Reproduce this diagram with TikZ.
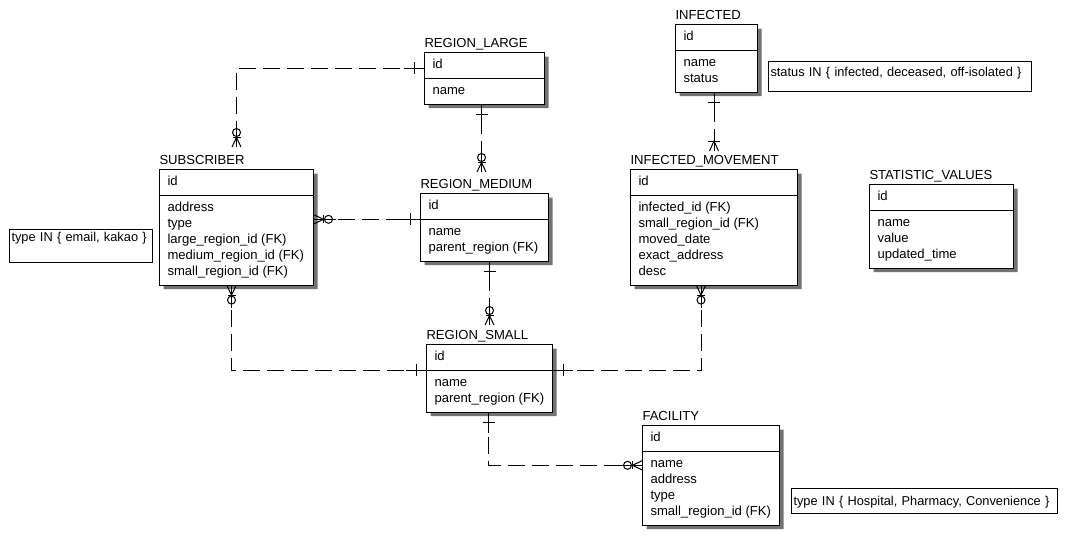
\documentclass[tikz,border=0pt]{standalone}
\usepackage{fontspec}
\setmainfont{Liberation Sans}
\usetikzlibrary{calc,shapes.multipart,shadows}

% end marks of a relationship: (end point)(direction away from the box)
\def\onemark(#1)(#2){\begin{scope}[shift={(#1)},rotate=#2]
  \draw (0,0) -- (20,0);
  \draw (10,-6) -- (10,6);
\end{scope}}
\def\zmanymark(#1)(#2){\begin{scope}[shift={(#1)},rotate=#2]
  \draw (0,0) -- (22,0);
  \draw (0,-4.5) -- (9.5,0) -- (0,4.5);
  \draw (9.5,-4) -- (9.5,4);
  \draw (14.5,0) circle (3pt);
\end{scope}}
\def\onemanymark(#1)(#2){\begin{scope}[shift={(#1)},rotate=#2]
  \draw (0,0) -- (20,0);
  \draw (0,-4.5) -- (10,0) -- (0,4.5);
  \draw (10,-6) -- (10,6);
\end{scope}}

\tikzset{
  entity/.style={rectangle split, rectangle split parts=2,
    rectangle split part align=left, align=left, draw, fill=white,
    minimum width=#1*0.75pt, inner xsep=6pt, inner ysep=3.3pt,
    anchor=north west, font=\fontsize{9.8pt}{12pt}\selectfont,
    drop shadow={shadow xshift=3pt,shadow yshift=-3pt,fill=black!55,opacity=1}},
  etitle/.style={anchor=base west, inner sep=0pt, font=\fontsize{9.8pt}{12pt}\selectfont},
  note/.style={draw, anchor=north west, inner xsep=1.5pt, inner ysep=0pt,
    align=left, font=\fontsize{9.6pt}{12pt}\selectfont},
  reldash/.style={dash pattern=on 12.75pt off 5.25pt},
  relshort/.style={dash pattern=on 22pt off 5pt}
}

\begin{document}
\begin{tikzpicture}[x=0.75pt,y=0.75pt,line width=0.75pt]
  \useasboundingbox (0,0) rectangle (1074,-543);

  %%%%% tables %%%%%
  \node[entity=120] (rl) at (424,-52) {\strut id\nodepart{two}\strut name};
  \node[etitle] (rlT) at ($(rl.north west)+(0,5)$) {REGION\_LARGE};

  \node[entity=82] (inf) at (675,-24) {\strut id\nodepart{two}\strut name\\status\strut};
  \node[etitle] (infT) at ($(inf.north west)+(0,5)$) {INFECTED};

  \node[entity=154] (sub) at (159,-169) {\strut id\nodepart{two}\strut address\\type\\
    large\_region\_id (FK)\\medium\_region\_id (FK)\\small\_region\_id (FK)\strut};
  \node[etitle] (subT) at ($(sub.north west)+(0,5)$) {SUBSCRIBER};

  \node[entity=128] (rm) at (420,-193) {\strut id\nodepart{two}\strut name\\parent\_region (FK)\strut};
  \node[etitle] (rmT) at ($(rm.north west)+(0,5)$) {REGION\_MEDIUM};

  \node[entity=167] (im) at (630,-169) {\strut id\nodepart{two}\strut infected\_id (FK)\\
    small\_region\_id (FK)\\moved\_date\\exact\_address\\desc\strut};
  \node[etitle] (imT) at ($(im.north west)+(0,5)$) {INFECTED\_MOVEMENT};

  \node[entity=144] (sv) at (869,-184) {\strut id\nodepart{two}\strut name\\value\\updated\_time\strut};
  \node[etitle] (svT) at ($(sv.north west)+(0,5)$) {STATISTIC\_VALUES};

  \node[entity=126] (rs) at (426,-344) {\strut id\nodepart{two}\strut name\\parent\_region (FK)\strut};
  \node[etitle] (rsT) at ($(rs.north west)+(0,5)$) {REGION\_SMALL};

  \node[entity=137] (fac) at (642,-425) {\strut id\nodepart{two}\strut name\\address\\type\\
    small\_region\_id (FK)\strut};
  \node[etitle] (facT) at ($(fac.north west)+(0,5)$) {FACILITY};

  %%%%% notes %%%%%
  \node[note, text width=104.25pt, text height=9pt, text depth=15.75pt] (subN) at (9,-229)
    {\mbox{type IN \{ email, kakao \}}};
  \node[note, text width=194.25pt, text height=10.9pt, text depth=11.6pt] (infN) at (768,-61)
    {\mbox{status IN \{ infected, deceased, off-isolated \}}};
  \node[note, text width=196.5pt, text height=12.75pt, text depth=6pt] (facN) at (791,-488)
    {\mbox{type IN \{ Hospital, Pharmacy, Convenience \}}};

  %%%%% relationships %%%%%
  \coordinate (rlL) at ($(rl.north west)+(0,-16)$);
  \coordinate (subTop) at ($(sub.north)+(0,22)$);
  \draw[reldash] (rlL) -| (subTop);
  \onemark(rlL)(180)
  \zmanymark(subTop)(90)

  \coordinate (rlB) at ($(rl.south)+(-3,0)$);
  \coordinate (rmTop) at ($(rm.north)+(-3,21)$);
  \draw[relshort] (rlB) -- (rmTop);
  \onemark(rlB)(-90)
  \zmanymark(rmTop)(90)

  \coordinate (subR) at (rm.text split west -| sub.east);
  \draw[reldash] (subR) -- (rm.text split west);
  \zmanymark(subR)(0)
  \onemark(rm.text split west)(180)

  \coordinate (rmB) at (rm.south -| rs.north);
  \coordinate (rsTop) at ($(rs.north)+(0,19)$);
  \draw[relshort] (rmB) -- (rsTop);
  \onemark(rmB)(-90)
  \zmanymark(rsTop)(90)

  \coordinate (subB) at ($(sub.south)+(-5,0)$);
  \draw[reldash] (subB) |- (rs.text split west);
  \zmanymark(subB)(-90)
  \onemark(rs.text split west)(180)

  \coordinate (imB) at ($(im.south)+(-13,0)$);
  \draw[reldash] (imB) |- (rs.text split east);
  \zmanymark(imB)(-90)
  \onemark(rs.text split east)(0)

  \coordinate (infB) at (inf.south -| im.north);
  \coordinate (imTop) at ($(im.north)+(0,18)$);
  \draw[relshort] (infB) -- (imTop);
  \onemark(infB)(-90)
  \onemanymark(imTop)(90)

  \coordinate (rsB) at ($(rs.south)+(-1,0)$);
  \coordinate (facL) at ($(fac.text split west)+(0,-14)$);
  \draw[reldash] (rsB) |- (facL);
  \onemark(rsB)(-90)
  \zmanymark(facL)(180)
\end{tikzpicture}
\end{document}
